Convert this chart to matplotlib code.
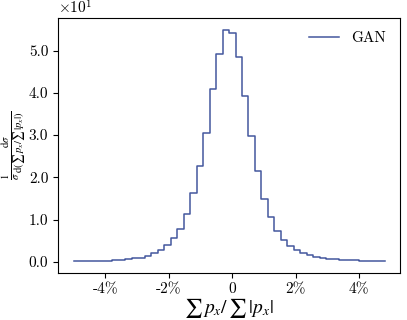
import numpy as np
from matplotlib import pyplot as plt
from matplotlib.ticker import ScalarFormatter, FuncFormatter, MultipleLocator

plt.rcParams['font.family'] = 'serif'
plt.rcParams['font.serif'] = ['cmr10']
plt.rcParams['mathtext.fontset'] = 'cm'
plt.rcParams['axes.formatter.use_mathtext'] = True
plt.rcParams['axes.unicode_minus'] = False

# histogram bin edges (fraction) and normalised densities
bin_edges = np.linspace(-0.05, 0.05, 50)
gan_density = [0.10, 0.12, 0.15, 0.18, 0.22, 0.27, 0.33, 0.42, 0.55, 0.8,
               1.0, 1.4, 2.1, 2.8, 4.0, 5.6, 7.8, 11.3, 16.2, 22.6,
               30.6, 40.8, 49.2, 55.0, 54.2, 48.4, 39.2, 29.7, 21.4, 14.9,
               10.6, 7.4, 5.2, 3.8, 2.8, 2.1, 1.6, 1.2, 0.9, 0.7,
               0.55, 0.45, 0.38, 0.32, 0.27, 0.23, 0.2, 0.17, 0.15]


class OneDecimalFormatter(ScalarFormatter):
    def _set_format(self):
        self.format = '%.1f'


fig = plt.figure(figsize=(4.07, 3.2), dpi=100)
ax = fig.add_axes([0.1425, 0.147, 0.8405, 0.797])

ax.step(bin_edges[:-1], gan_density, where='post', color='#44579e', lw=1.1, label='GAN')

ax.xaxis.set_major_locator(MultipleLocator(0.02))
ax.xaxis.set_major_formatter(FuncFormatter(lambda v, p: '0' if abs(v) < 1e-9 else '%d%%' % round(v * 100)))

fmt = OneDecimalFormatter(useMathText=True)
fmt.set_powerlimits((1, 1))
ax.yaxis.set_major_formatter(fmt)
ax.yaxis.get_offset_text().set_fontsize(11)

ax.tick_params(labelsize=11)
# stix has a text-sized sum sign, cm's is the big display one
ax.set_xlabel(r'$\sum\, p_x/\, \sum\, |p_x|$', fontsize=14, labelpad=0, math_fontfamily='stix')
ax.set_ylabel(r'$\frac{1}{\sigma}\frac{\mathrm{d}\sigma}{\mathrm{d}(\sum\, p_x/\sum\,|p_x|)}$',
              fontsize=11, math_fontfamily='stix')
ax.yaxis.set_label_coords(-0.087, 0.5)
ax.legend(frameon=False, fontsize=11, loc='upper right')

fig.savefig('out.png', dpi=100)
